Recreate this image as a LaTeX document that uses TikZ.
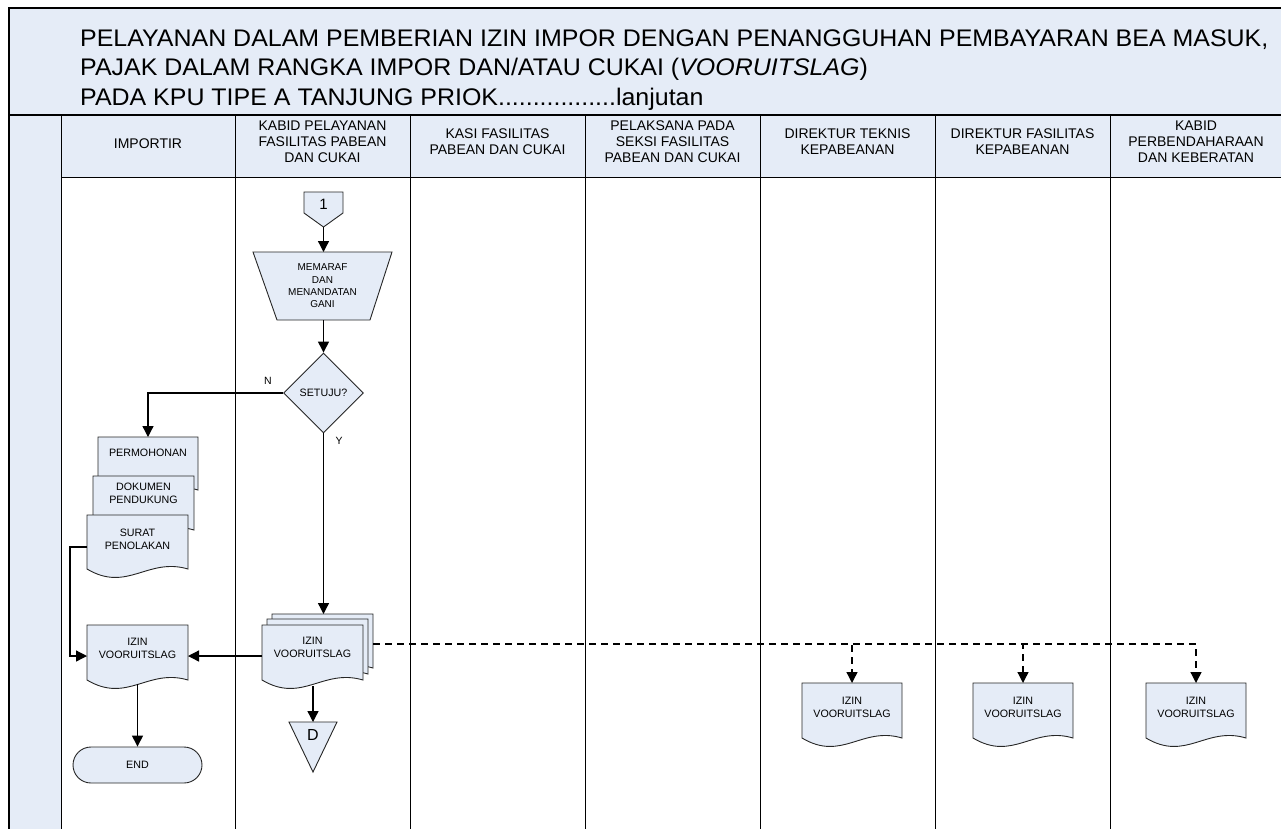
\documentclass[tikz,border=0pt]{standalone}
\usepackage{fontspec}
\setmainfont{Liberation Sans}
\newfontfamily\titlefont[FakeStretch=1.04]{Liberation Sans}
\usetikzlibrary{arrows.meta,shapes.geometric,calc}
\definecolor{fillblue}{RGB}{229,236,247}
\tikzset{
  shp/.style={draw=black!85, fill=fillblue, line width=0.9pt},
  lane/.style={draw=black, line width=0.9pt},
  flow/.style={draw=black, line width=1.3pt, -{Triangle[length=11pt,width=11pt]}},
  dflow/.style={flow, dash pattern=on 7pt off 5pt},
  small/.style={font=\fontsize{10.7}{13}\selectfont, align=center, inner sep=0pt},
  hdr/.style={font=\fontsize{14}{16}\selectfont, align=center, inner sep=0pt},
  ttl/.style={font=\titlefont\fontsize{24}{25}\selectfont, anchor=base west, inner sep=0pt},
}
\newcommand\docshp[4]{\path[shp] (#1,#2) -- (#3,#2) -- (#3,#4) .. controls ({#1+0.6*(#3-#1)},{#4-12}) and ({#1+0.4*(#3-#1)},{#4+24}) .. (#1,#4) -- cycle;}
\begin{document}
\begin{tikzpicture}[x=1pt,y=-1pt]
\useasboundingbox (0,0) rectangle (1281,828);
% backgrounds
\path[fill=fillblue] (9,8) rectangle (1290,115);
\path[fill=fillblue] (9,115) rectangle (61,840);
\path[fill=fillblue] (61,115) rectangle (1290,177);
% frame and lanes
\draw[line width=1.3pt] (1290,8) -- (9,8) -- (9,840);
\draw[line width=1.3pt] (9,115) -- (1290,115);
\draw[lane] (61,177) -- (1290,177);
\foreach \x in {61,235,410,585,760,935,1110} \draw[lane] (\x,115) -- (\x,840);
% title
\node[ttl] (t1) at (80,46) {PELAYANAN DALAM PEMBERIAN IZIN IMPOR DENGAN PENANGGUHAN PEMBAYARAN BEA MASUK,};
\node[ttl] (t2) at (80,75.5) {PAJAK DALAM RANGKA IMPOR DAN/ATAU CUKAI (\textit{VOORUITSLAG})};
\node[ttl] (t3) at (80,105) {PADA KPU TIPE A TANJUNG PRIOK.................lanjutan};
% headers
\node[hdr] (h1) at (148,144) {IMPORTIR};
\node[hdr] (h2) at (322.5,142) {KABID PELAYANAN\\FASILITAS PABEAN\\DAN CUKAI};
\node[hdr] (h3) at (497.5,142) {KASI FASILITAS\\PABEAN DAN CUKAI};
\node[hdr] (h4) at (672.5,142) {PELAKSANA PADA\\SEKSI FASILITAS\\PABEAN DAN CUKAI};
\node[hdr] (h5) at (847.5,142) {DIREKTUR TEKNIS\\KEPABEANAN};
\node[hdr] (h6) at (1022.5,142) {DIREKTUR FASILITAS\\KEPABEANAN};
\node[hdr] (h7) at (1196,142) {KABID\\PERBENDAHARAAN\\DAN KEBERATAN};
% off-page connector 1
\path[shp] (304,192) -- (343,192) -- (343,213) -- (323.5,227) -- (304,213) -- cycle;
\node[font=\fontsize{15}{17}\selectfont, inner sep=0pt] (c1) at (323.5,204) {1};
\coordinate (c1b) at (323.5,227);
% manual operation
\path[shp] (253,252) -- (392,252) -- (370,320) -- (277,320) -- cycle;
\node[small, font=\fontsize{10}{12.3}\selectfont] (mem) at (322.5,286) {MEMARAF\\DAN\\MENANDATAN\\GANI};
\coordinate (memt) at (323.5,252);
\coordinate (memb) at (323.5,320);
% decision
\node[shp, diamond, minimum width=80pt, minimum height=80pt, small] (d) at (323.5,393) {SETUJU?};
\node[font=\fontsize{10.5}{12}\selectfont, inner sep=0pt] (ln) at (268,381) {N};
\node[font=\fontsize{10.5}{12}\selectfont, inner sep=0pt] (ly) at (339,441) {Y};
% importir documents
\docshp{98}{437}{198}{490}
\node[small] (perm) at (148,453) {PERMOHONAN};
\docshp{93}{476}{194}{530}
\node[small] (dok) at (143.5,493) {DOKUMEN\\PENDUKUNG};
\docshp{87}{515}{188}{569}
\node[small] (sur) at (137.5,539) {SURAT\\PENOLAKAN};
\docshp{87}{625}{188}{680}
\node[small] (iz1) at (137.5,648) {IZIN\\VOORUITSLAG};
\node[shp, rounded corners=18pt, minimum width=129pt, minimum height=36pt, small] (end) at (137.5,765) {END};
% stacked documents
\docshp{272}{614}{373}{668}
\docshp{267}{619}{368}{674}
\docshp{262}{625}{363}{680}
\node[small] (iz2) at (312.5,647) {IZIN\\VOORUITSLAG};
% D connector
\path[shp] (289,722) -- (337,722) -- (313,772) -- cycle;
\node[font=\fontsize{16}{18}\selectfont, inner sep=0pt] (dd) at (313,735) {D};
% right documents
\docshp{802}{683}{902}{738}
\node[small] (iz3) at (852,707.5) {IZIN\\VOORUITSLAG};
\docshp{973}{683}{1073}{738}
\node[small] (iz4) at (1023,707.5) {IZIN\\VOORUITSLAG};
\docshp{1146}{683}{1246}{738}
\node[small] (iz5) at (1196,707.5) {IZIN\\VOORUITSLAG};
% connector end points
\coordinate (permt) at (148,437);
\coordinate (stkt) at (323.5,614);
\coordinate (surl) at (87,547);
\coordinate (iz1l) at (87,656);
\coordinate (iz1r) at (188,656);
\coordinate (iz1b) at (137.5,684);
\coordinate (stkl) at (262,656);
\coordinate (stkr) at (373,644);
\coordinate (stkb) at (313,686);
\coordinate (ddt) at (313,722);
\coordinate (iz3t) at (852,683);
\coordinate (iz4t) at (1023,683);
\coordinate (iz5t) at (1196,683);
% connectors
\draw[flow] (c1b) -- (memt);
\draw[flow] (memb) -- (d.north);
\draw[flow] (d.west) -| (permt);
\draw[flow] (d.south) -- (stkt);
\draw[flow] (surl) -- ++(-17,0) |- (iz1l);
\draw[flow] (stkl) -- (iz1r);
\draw[flow] (iz1b) -- (end.north);
\draw[flow] (stkb) -- (ddt);
\draw[dflow] (stkr) -| (iz3t);
\draw[dflow] (stkr) -| (iz4t);
\draw[dflow] (stkr) -| (iz5t);
\end{tikzpicture}
\end{document}
